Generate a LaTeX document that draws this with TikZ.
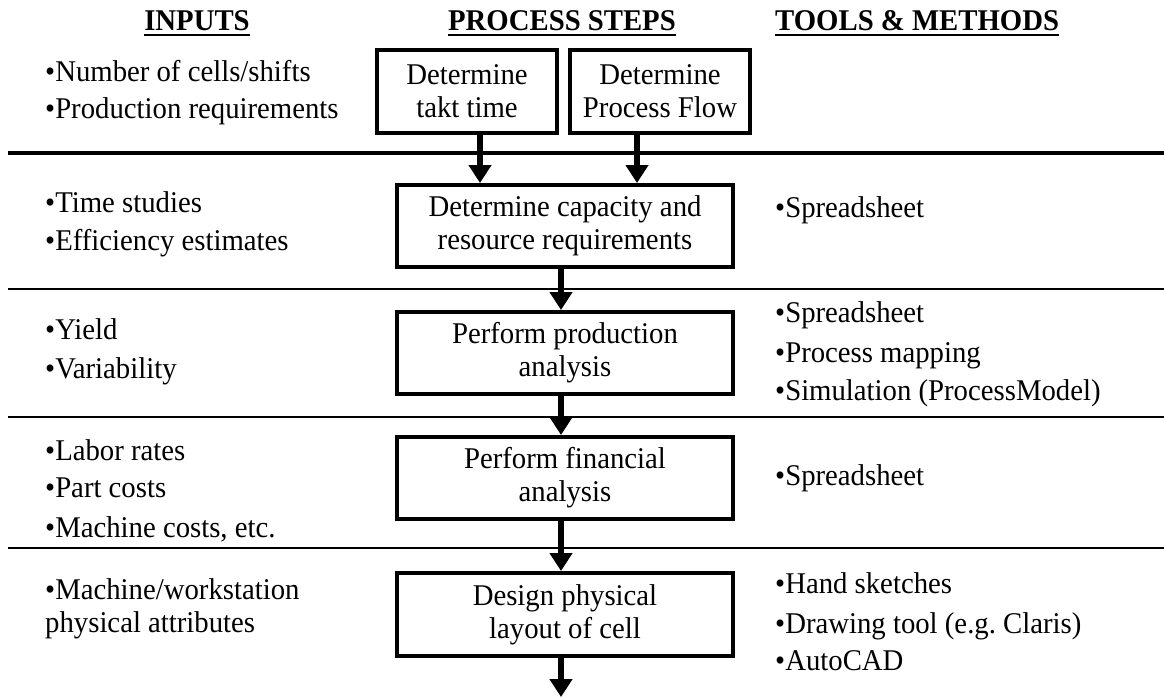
\documentclass[tikz,border=0pt]{standalone}
\usepackage{fontspec}
\setmainfont{Liberation Serif}[FakeStretch=0.955]
\usetikzlibrary{arrows.meta}
\frenchspacing

\newcommand{\bodyfont}{\fontsize{30.1}{33}\selectfont}
\newcommand{\headfont}{\fontsize{30.1}{33}\selectfont\bfseries}

\tikzset{
  stepbox/.style={draw, line width=4pt, minimum width=336pt, minimum height=82pt,
    align=center, inner sep=0pt, font=\bodyfont},
  smallbox/.style={stepbox, minimum width=180pt, minimum height=83pt},
  item/.style={anchor=base west, inner sep=0pt, font=\bodyfont},
  head/.style={anchor=base, inner sep=0pt, font=\headfont},
  headline/.style={line width=2pt},
  flow/.style={line width=6pt, -{Triangle[width=22pt,length=18pt]}},
  majorrule/.style={line width=4pt},
  minorrule/.style={line width=2.5pt},
}

\begin{document}
\begin{tikzpicture}[x=1pt,y=-1pt]
\useasboundingbox (0,0) rectangle (1164,698);

% column headings
\node[head] (hin)   at (197,31) {INPUTS};
\node[head] (hstep) at (562,31) {PROCESS STEPS};
\node[head, anchor=base west] (htool) at (775,31) {TOOLS \& METHODS};
\foreach \h in {hin,hstep,htool}
  \draw[headline] ([yshift=-4pt]\h.base west) -- ([yshift=-4pt]\h.base east);

% row separators
\draw[majorrule] (8,153) -- (1164,153);
\draw[minorrule] (8,289) -- (1164,289);
\draw[minorrule] (8,417) -- (1164,417);
\draw[minorrule] (8,548) -- (1164,548);

% process steps
\node[smallbox] (takt) at (467,91.5) {Determine\\takt time};
\node[smallbox] (pflow) at (660,91.5) {Determine\\Process Flow};
\node[stepbox] (capacity)   at (565,226)   {Determine capacity and\\resource requirements};
\node[stepbox] (production) at (565,353)   {Perform production\\analysis};
\node[stepbox] (financial)  at (565,478)   {Perform financial\\analysis};
\node[stepbox, minimum height=83pt] (layout) at (565,614.5) {Design physical\\layout of cell};

% flow between steps
\path (takt.south)  ++(13,0)  coordinate (taktout);
\path (pflow.south) ++(-23,0) coordinate (flowout);
\path (capacity.south)   ++(-4,0) coordinate (capout);
\path (production.south) ++(-4,0) coordinate (prodout);
\path (financial.south)  ++(-4,0) coordinate (finout);
\path (layout.south)     ++(-4,0) coordinate (layout-out);
\coordinate (next) at (561,697);
\draw[flow] (taktout) -- (taktout |- capacity.north);
\draw[flow] (flowout) -- (flowout |- capacity.north);
\draw[flow] (capout)  -- (capout |- production.north);
\draw[flow] (prodout) -- (prodout |- financial.north);
\draw[flow] (finout)  -- (finout |- layout.north);
\draw[flow] (layout-out) -- (next);

% inputs
\node[item] (in1)  at (45,82)  {•Number of cells/shifts};
\node[item] (in2)  at (45,119) {•Production requirements};
\node[item] (in3)  at (45,212) {•Time studies};
\node[item] (in4)  at (45,250) {•Efficiency estimates};
\node[item] (in5)  at (45,339) {•Yield};
\node[item] (in6)  at (45,378) {•Variability};
\node[item] (in7)  at (45,460) {•Labor rates};
\node[item] (in8)  at (45,497) {•Part costs};
\node[item] (in9)  at (45,537) {•Machine costs, etc.};
\node[item] (in10) at (45,599) {•Machine/workstation};
\node[item] (in11) at (45,632) {physical attributes};

% tools and methods
\node[item] (tm1) at (775,217) {•Spreadsheet};
\node[item] (tm2) at (775,322) {•Spreadsheet};
\node[item] (tm3) at (775,362) {•Process mapping};
\node[item] (tm4) at (775,400) {•Simulation (ProcessModel)};
\node[item] (tm5) at (775,485) {•Spreadsheet};
\node[item] (tm6) at (775,593) {•Hand sketches};
\node[item] (tm7) at (775,633) {•Drawing tool (e.g. Claris)};
\node[item] (tm8) at (775,670) {•AutoCAD};
\end{tikzpicture}
\end{document}
